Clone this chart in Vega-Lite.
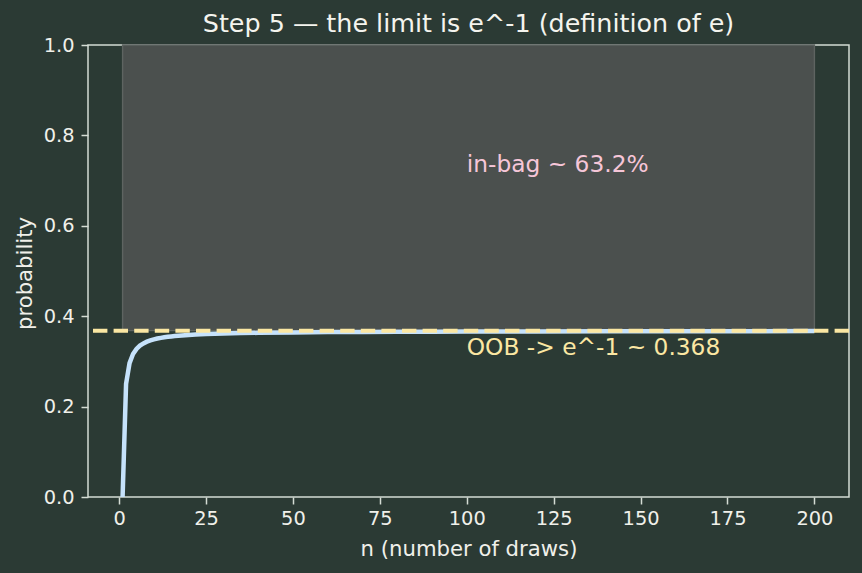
{
  "$schema": "https://vega.github.io/schema/vega-lite/v6.json",
  "width": 761,
  "height": 452,
  "autosize": {"type": "none"},
  "padding": {"left": 88, "top": 45, "right": 13, "bottom": 76},
  "background": "#2b3a34",
  "config": {
    "font": "DejaVu Sans",
    "view": {"stroke": "#d4dcd4", "strokeWidth": 1.5, "fill": "#2b3a34"},
    "axis": {
      "grid": false,
      "domain": false,
      "tickColor": "#d4dcd4",
      "tickSize": 7,
      "tickWidth": 1.5,
      "labelColor": "#f0f0ea",
      "labelFontSize": 19.4,
      "titleColor": "#f0f0ea",
      "titleFontSize": 21.2,
      "titleFontWeight": "normal"
    }
  },
  "title": {
    "text": "Step 5 — the limit is e^-1 (definition of e)",
    "color": "#f4f4ee",
    "fontSize": 25.4,
    "fontWeight": "normal",
    "offset": -2
  },
  "datasets": {
    "curve": [
      {"n": 1, "p": 0.0}, {"n": 2, "p": 0.25}, {"n": 3, "p": 0.2963}, {"n": 4, "p": 0.3164},
      {"n": 5, "p": 0.3277}, {"n": 6, "p": 0.3349}, {"n": 7, "p": 0.3399}, {"n": 8, "p": 0.3436},
      {"n": 9, "p": 0.3464}, {"n": 10, "p": 0.3487}, {"n": 11, "p": 0.3505}, {"n": 12, "p": 0.352},
      {"n": 13, "p": 0.3533}, {"n": 14, "p": 0.3543}, {"n": 15, "p": 0.3553}, {"n": 16, "p": 0.3561},
      {"n": 17, "p": 0.3568}, {"n": 18, "p": 0.3574}, {"n": 19, "p": 0.358}, {"n": 20, "p": 0.3585},
      {"n": 22, "p": 0.3594}, {"n": 25, "p": 0.3604}, {"n": 30, "p": 0.3617}, {"n": 35, "p": 0.3626},
      {"n": 40, "p": 0.3632}, {"n": 50, "p": 0.3642}, {"n": 60, "p": 0.3648}, {"n": 70, "p": 0.3652},
      {"n": 80, "p": 0.3656}, {"n": 90, "p": 0.3658}, {"n": 100, "p": 0.366}, {"n": 120, "p": 0.3663},
      {"n": 140, "p": 0.3666}, {"n": 160, "p": 0.3667}, {"n": 180, "p": 0.3669}, {"n": 200, "p": 0.367}
    ],
    "band": [{"x": 1, "x2": 200, "y": 0.368, "y2": 1.0}],
    "limit": [{"y": 0.3679}],
    "labels": [
      {"x": 100, "y": 0.719, "label": "in-bag ~ 63.2%", "kind": "in"},
      {"x": 100, "y": 0.314, "label": "OOB -> e^-1 ~ 0.368", "kind": "oob"}
    ]
  },
  "layer": [
    {
      "data": {"name": "band"},
      "mark": {"type": "rect", "fill": "#4b504e", "stroke": "#5e6461", "strokeWidth": 1.4},
      "encoding": {
        "x": {"field": "x", "type": "quantitative",
              "scale": {"domain": [-8.95, 209.95], "nice": false, "zero": false},
              "axis": {"values": [0, 25, 50, 75, 100, 125, 150, 175, 200], "title": "n (number of draws)", "labelPadding": 5, "titleY": 52, "titleBaseline": "middle"}},
        "x2": {"field": "x2"},
        "y": {"field": "y", "type": "quantitative",
              "scale": {"domain": [0, 1], "nice": false},
              "axis": {"values": [0, 0.2, 0.4, 0.6, 0.8, 1.0], "format": ".1f", "title": "probability", "labelPadding": 7, "titleX": -63, "titleY": 228, "titleAlign": "center", "titleBaseline": "middle", "titleAngle": -90}},
        "y2": {"field": "y2"}
      }
    },
    {
      "data": {"name": "curve"},
      "mark": {"type": "line", "color": "#c6e2fb", "strokeWidth": 4.5, "interpolate": "linear"},
      "encoding": {
        "x": {"field": "n", "type": "quantitative"},
        "y": {"field": "p", "type": "quantitative"}
      }
    },
    {
      "data": {"name": "limit"},
      "mark": {"type": "rule", "color": "#fbe7a3", "strokeWidth": 3.9, "strokeDash": [14.4, 6.2]},
      "encoding": {
        "y": {"field": "y", "type": "quantitative"}
      }
    },
    {
      "data": {"name": "labels"},
      "mark": {"type": "text", "align": "left", "baseline": "alphabetic", "fontSize": 23.3},
      "encoding": {
        "x": {"field": "x", "type": "quantitative"},
        "y": {"field": "y", "type": "quantitative"},
        "text": {"field": "label"},
        "color": {"field": "kind", "type": "nominal", "scale": {"domain": ["in", "oob"], "range": ["#f6c6d8", "#fbe7a3"]}, "legend": null}
      }
    }
  ]
}
